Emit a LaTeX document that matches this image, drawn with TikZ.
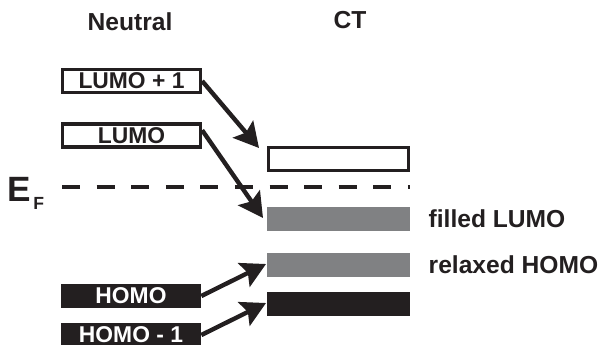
\documentclass[tikz,border=0pt]{standalone}
\usepackage{fontspec}
\setmainfont{Liberation Sans}
\usepackage{tikz}
\usetikzlibrary{arrows.meta, positioning}
\definecolor{inkblack}{RGB}{35, 31, 32}
\definecolor{levelgray}{RGB}{128, 129, 131}

\begin{document}
\begin{tikzpicture}[x=0.02cm, y=-0.02cm,
  every node/.style={font=\fontsize{14}{16}\selectfont\bfseries, text=inkblack},
  boxfont/.style={font=\fontsize{13}{15}\selectfont\bfseries},
  emptylvl/.style={draw=inkblack, line width=1.9pt, inner sep=0pt,
                   minimum width=2.76cm, minimum height=0.46cm, boxfont},
  filledlvl/.style={fill=#1, inner sep=0pt,
                    minimum width=2.86cm, minimum height=0.48cm, boxfont},
  hop/.style={-{Stealth[length=14pt, width=15pt, inset=2.5pt]}, line width=2.5pt, inkblack}]

  \useasboundingbox (0,0) rectangle (603,345);

  % ---------- Neutral ----------
  \node (neutral) at (130,22) {Neutral};
  \node[emptylvl] (lumoA) at (131.5,81) {LUMO + 1};
  \node[emptylvl] (lumo) at (131.5,135.5) {LUMO};
  \node[filledlvl=inkblack, text=white, minimum width=2.8cm] (homo) at (131,296) {HOMO};
  \node[filledlvl=inkblack, text=white, minimum width=2.8cm] (homoB) at (131,335) {HOMO - 1};

  % ---------- CT ----------
  \node (ct) at (350,20) {CT};
  \node[emptylvl, minimum width=2.8cm] (ctlumoA) at (338.5,159) {};
  \node[filledlvl=levelgray] (ctlumo) at (338.5,219) {};
  \node[filledlvl=levelgray] (cthomo) at (338.5,265) {};
  \node[filledlvl=inkblack] (cthomoB) at (338.5,304) {};
  \node[right=0.36cm of ctlumo, inner sep=0pt] (lblfilled) {filled LUMO};
  \node[right=0.36cm of cthomo, inner sep=0pt] (lblrelaxed) {relaxed HOMO};

  % ---------- Fermi level ----------
  \coordinate (efL) at (62,187);
  \coordinate (efR) at (410,187);
  \draw[inkblack, line width=2.6pt, dash pattern=on 0.36cm off 0.332cm] (efL) -- (efR);
  \node[anchor=base west, inner sep=0pt] (ef) at (7,201)
    {{\fontsize{20}{20}\selectfont E}\kern1.5pt\raisebox{-5pt}{\fontsize{10}{10}\selectfont F}};

  % ---------- transitions ----------
  \coordinate (tipA) at (259,148);
  \coordinate (tipB) at (263,218);
  \coordinate (tipC) at (266,264);
  \coordinate (tipD) at (266,303);
  \draw[hop] (lumoA.east) -- (tipA);
  \draw[hop] ([yshift=3pt]lumo.east) -- (tipB);
  \draw[hop] (homo.east) -- (tipC);
  \draw[hop] (homoB.east) -- (tipD);
\end{tikzpicture}
\end{document}
